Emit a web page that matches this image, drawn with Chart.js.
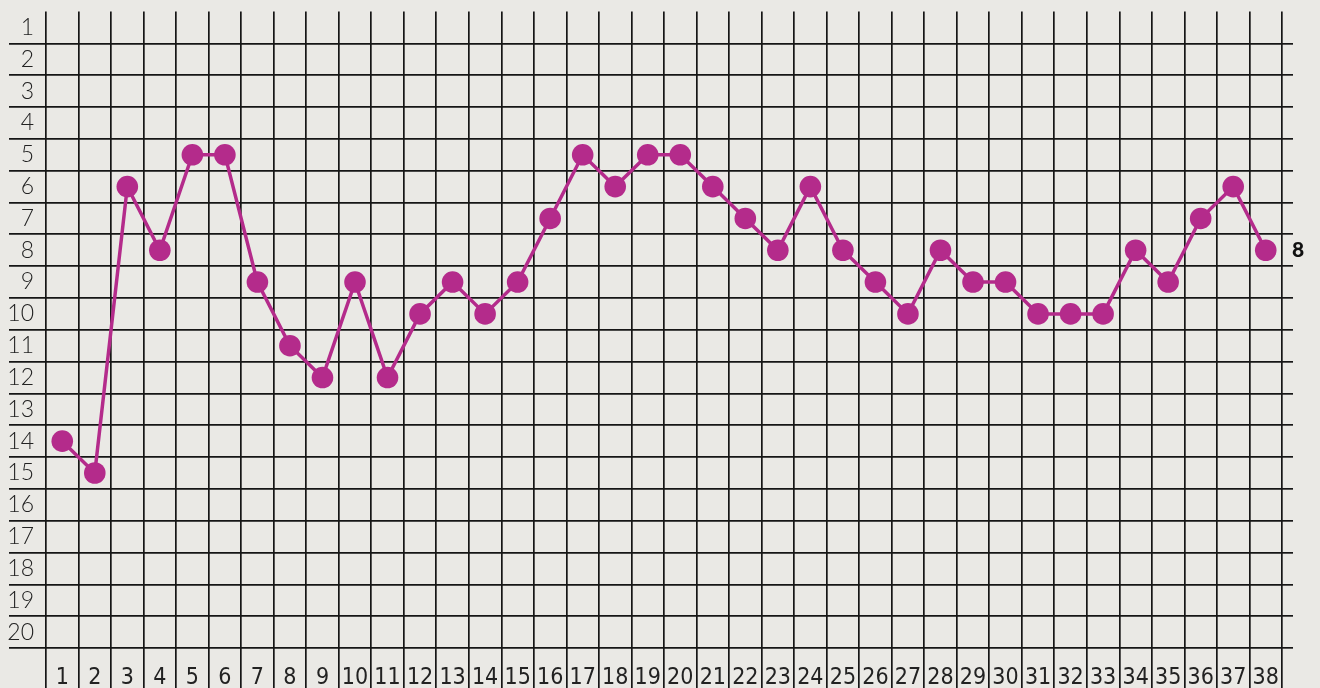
<!DOCTYPE html>
<html>
<head>
<meta charset="utf-8">
<script src="https://cdn.jsdelivr.net/npm/chart.js@4"></script>
<style>
  body { margin: 0; background: #eae9e5; }
  #wrap { width: 1320px; height: 688px; }
</style>
</head>
<body>
<div id="wrap"><canvas id="rankChart" width="1320" height="688"></canvas></div>
<script>
const weeks = ['1','2','3','4','5','6','7','8','9','10','11','12','13','14','15','16','17','18','19','20',
    '21','22','23','24','25','26','27','28','29','30','31','32','33','34','35','36','37','38'];
const ranks = ['1','2','3','4','5','6','7','8','9','10','11','12','13','14','15','16','17','18','19','20'];
const positions = [14, 15, 6, 8, 5, 5, 9, 11, 12, 9, 12, 10, 9, 10, 9, 7, 5, 6, 5, 5,
    6, 7, 8, 6, 8, 9, 10, 8, 9, 9, 10, 10, 10, 8, 9, 7, 6, 8];
const lastPosition = positions[positions.length - 1];

const lineColor = '#b42b8b';
const gridColor = '#161616';

// hide the grid line at the very top edge
function hideTop(ctx) {
    return ctx.index === 0 ? 'rgba(0,0,0,0)' : gridColor;
}

const ctx = document.getElementById('rankChart').getContext('2d');
new Chart(ctx, {
    type: 'line',
    data: {
        labels: weeks,
        datasets: [{
            data: positions.map(p => String(p)),
            borderColor: lineColor,
            backgroundColor: lineColor,
            borderWidth: 3.5,
            pointRadius: 10.8,
            pointHoverRadius: 10.8,
            pointBackgroundColor: lineColor,
            pointBorderWidth: 0,
            tension: 0,
            yAxisID: 'y'
        }]
    },
    options: {
        responsive: false,
        animation: false,
        layout: { padding: { top: 8, left: 0, right: 0, bottom: 0 } },
        plugins: { legend: { display: false }, tooltip: { enabled: false } },
        scales: {
            x: {
                type: 'category',
                offset: true,
                grid: { offset: true, color: gridColor, lineWidth: 1.7, tickLength: 40, tickColor: gridColor },
                border: { display: false },
                ticks: {
                    color: '#222',
                    font: { family: '"Liberation Sans Narrow", "DejaVu Sans Condensed", sans-serif', size: 23 },
                    padding: -24,
                    maxRotation: 0,
                    autoSkip: false
                },
                afterFit: s => { s.height = 40; }
            },
            y: {
                type: 'category',
                labels: ranks,
                offset: true,
                position: 'left',
                grid: { offset: true, color: hideTop, tickColor: hideTop, lineWidth: 1.7, tickLength: 37 },
                border: { display: false },
                ticks: {
                    color: '#222',
                    font: { family: 'Lato, "Open Sans", sans-serif', size: 23, weight: 300 },
                    padding: -25,
                    autoSkip: false
                },
                afterFit: s => { s.width = 46; }
            },
            y2: {
                type: 'category',
                labels: ranks,
                offset: true,
                position: 'right',
                grid: { offset: true, drawOnChartArea: false, tickColor: hideTop, lineWidth: 1.7, tickLength: 11 },
                border: { display: false },
                ticks: {
                    color: '#111',
                    font: { family: 'Lato, "DejaVu Sans", sans-serif', size: 21, weight: 900 },
                    padding: -1,
                    autoSkip: false,
                    callback: function (value) {
                        const label = this.getLabelForValue(value);
                        return label === String(lastPosition) ? label : '';
                    }
                },
                afterFit: s => { s.width = 38; }
            }
        }
    }
});
</script>
</body>
</html>
